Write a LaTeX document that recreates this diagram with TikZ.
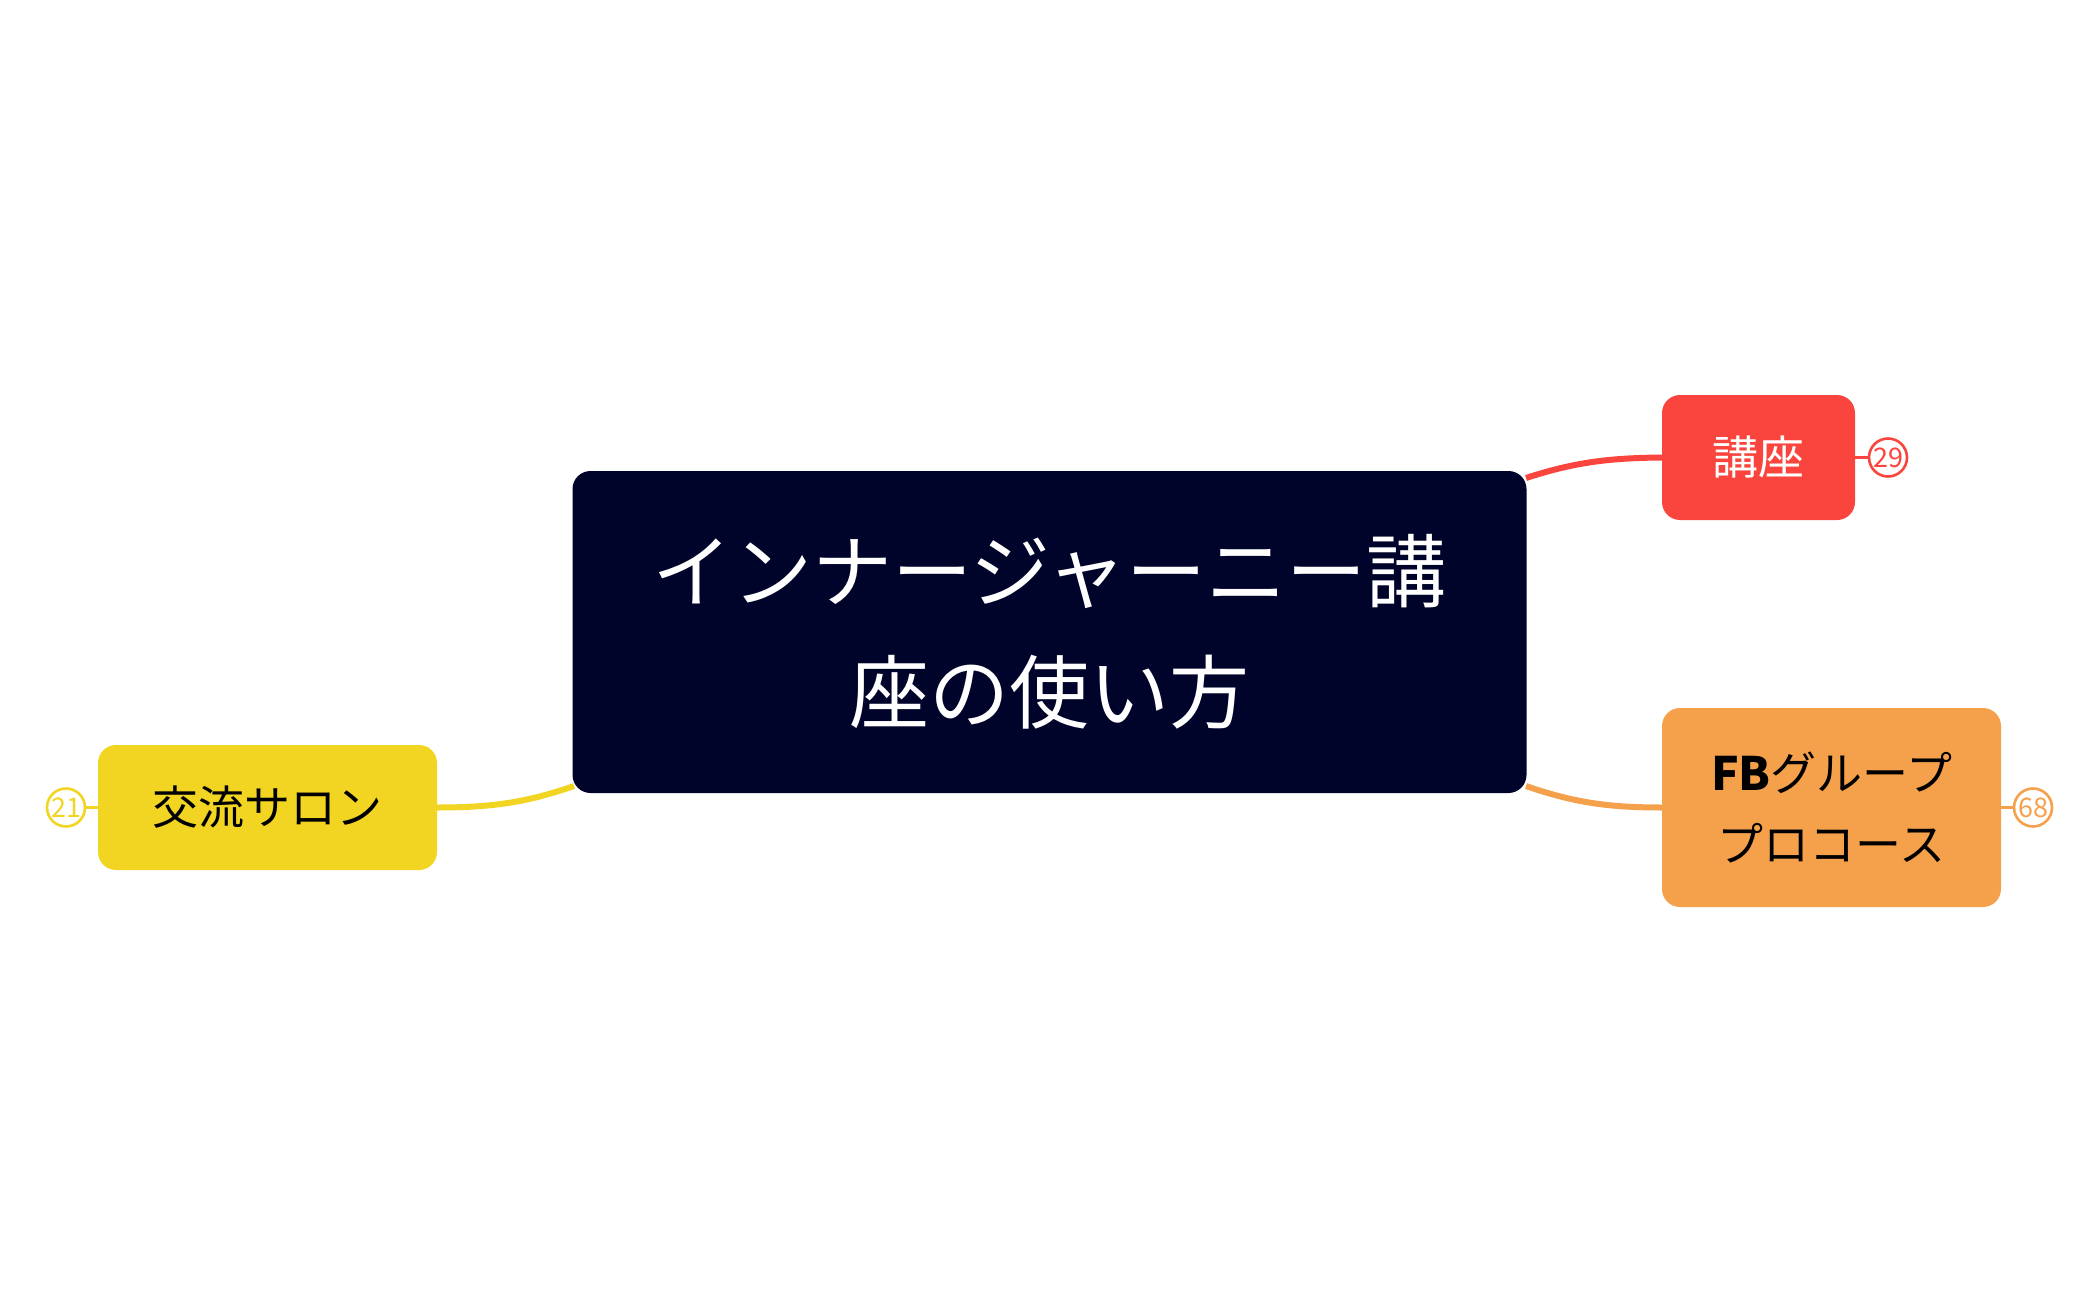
\documentclass[tikz,border=0pt]{standalone}
\usepackage{fontspec}
\newfontfamily\jp{Noto Sans CJK JP}
\definecolor{navy}{RGB}{0,3,42}
\definecolor{cred}{RGB}{249,69,61}
\definecolor{corange}{RGB}{245,161,76}
\definecolor{cyellow}{RGB}{242,212,34}
\tikzset{
  rootbox/.style={fill=navy, rounded corners=18pt, inner sep=0pt, text=white, align=center, font=\jp\fontsize{80}{121}\selectfont},
  childbox/.style={rounded corners=18pt, inner sep=0pt, align=center, font=\jp\fontsize{46}{71}\selectfont},
  countc/.style={circle, draw, fill=white, line width=2.6pt, minimum size=38pt, inner sep=0pt, font=\jp\fontsize{27}{27}\selectfont},
  branch/.style={line width=6pt},
  stub/.style={line width=3.5pt}
}
\begin{document}
\begin{tikzpicture}[x=1pt,y=-1pt]
\useasboundingbox (0,0) rectangle (2099,1300);
% anchor points of branches (behind root box)
\coordinate (rs) at (1526,478);
\coordinate (os) at (1526,786);
\coordinate (ys) at (574,786);
% child nodes
\node[childbox, fill=cred, text=white, minimum width=193pt, minimum height=125pt] (red) at (1758.5,457.5) {講座};
\node[childbox, fill=corange, text=black, minimum width=339pt, minimum height=199pt] (orange) at (1831.5,807.5) {{\bfseries FB}グループ\\プロコース};
\node[childbox, fill=cyellow, text=black, minimum width=339pt, minimum height=125pt] (yellow) at (267.5,807.5) {交流サロン};
% branches
\draw[branch, cred] (rs) .. controls (1575,462) and (1610,458) .. (red.west);
\draw[branch, corange] (os) .. controls (1575,803) and (1610,807.5) .. (orange.west);
\draw[branch, cyellow] (ys) .. controls (525,803) and (490,807.5) .. (yellow.east);
% root
\node[rootbox, minimum width=954pt, minimum height=322pt] (root) at (1049.5,632) {インナージャーニー講\\座の使い方};
% counters
\node[countc, draw=cred, text=cred] (c29) at (1888,457.5) {29};
\node[countc, draw=corange, text=corange] (c68) at (2033,807.5) {68};
\node[countc, draw=cyellow, text=cyellow] (c21) at (66,807.5) {21};
\draw[stub, cred] (red.east) -- (c29.west);
\draw[stub, corange] (orange.east) -- (c68.west);
\draw[stub, cyellow] (yellow.west) -- (c21.east);
\end{tikzpicture}
\end{document}
